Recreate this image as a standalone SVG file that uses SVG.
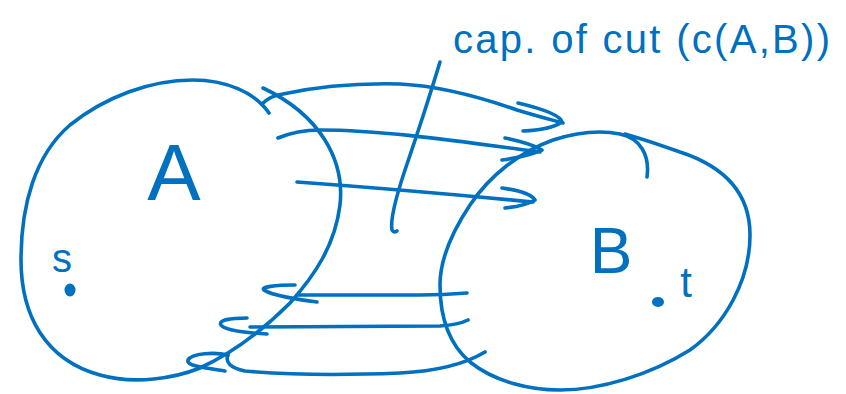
<svg xmlns="http://www.w3.org/2000/svg" width="846" height="394" viewBox="0 0 846 394">
<style>
.ink{fill:none;stroke:#0070C0;stroke-width:3.6;stroke-linecap:round;stroke-linejoin:round}
.lbl{fill:#0070C0;font-family:"Liberation Sans","DejaVu Sans",sans-serif}
.dot{fill:#0070C0}
</style>
<rect width="846" height="394" fill="#ffffff"/>
<g id="setA">
<path class="ink" d="M 269,113 C 255,92 225,80 193,80 C 150,80 105,97 70,125 C 35,155 21,205 21,260 C 21,315 45,360 100,375 C 135,385 175,378 200,368 C 235,352 265,328 290,303 C 315,275 335,245 340,205 C 345,160 320,115 263,88"/>
<text class="lbl" x="174" y="200" font-size="80" text-anchor="middle">A</text>
<text class="lbl" x="62" y="272" font-size="40" text-anchor="middle">s</text>
<ellipse class="dot" cx="70" cy="290" rx="5.5" ry="6.5"/>
</g>
<g id="setB">
<path class="ink" d="M 647,177 C 650,155 640,138 620,134 C 600,130 575,133 553,140 C 520,152 490,175 470,205 C 450,235 440,260 440,285 C 440,320 450,345 470,362 C 495,382 530,390 560,390 C 600,390 650,375 690,350 C 725,325 750,280 750,235 C 750,190 720,165 680,152 C 660,145 640,138 625,134"/>
<text class="lbl" x="611" y="273" font-size="64" text-anchor="middle">B</text>
<text class="lbl" x="686" y="297" font-size="42" text-anchor="middle">t</text>
<ellipse class="dot" cx="658" cy="302" rx="6" ry="5"/>
</g>
<g id="connectors">
<path class="ink" d="M 262,104 C 268,98 275,95 283,94 C 320,86 360,83 400,84 C 440,86 480,97 517,110 C 540,117 556,121 563,123"/>
<path class="ink" d="M 518,103 Q 560,113 562,122 Q 550,130 523,131"/>
<path class="ink" d="M 278,138 C 290,133 305,130 320,130 C 380,130 450,140 540,152"/>
<path class="ink" d="M 505,138 Q 530,143 542,150 Q 525,157 502,160"/>
<path class="ink" d="M 297,182 C 380,188 460,195 533,202"/>
<path class="ink" d="M 502,188 Q 530,192 535,200 Q 525,206 505,208"/>
<path class="ink" d="M 295,285 C 275,285 260,287 264,290 C 270,295 300,300 317,302"/>
<path class="ink" d="M 297,295 L 420,295 C 440,295 455,294 467,293"/>
<path class="ink" d="M 247,318 C 230,318 218,320 221,325 C 225,331 250,333 267,334"/>
<path class="ink" d="M 250,327 L 440,326 C 455,325 462,323 468,320"/>
<path class="ink" d="M 228,355 C 215,352 192,353 188,360 C 186,366 205,368 225,371"/>
<path class="ink" d="M 228,355 C 225,362 230,368 245,371 C 290,375 350,375 400,373 C 440,371 465,364 485,352"/>
</g>
<g id="cut-label">
<path class="ink" d="M 440,62 C 430,95 417,135 405,170 C 395,200 390,220 392,230 Q 394,233 397,231"/>
<text class="lbl" x="453" y="53" font-size="40" textLength="377" lengthAdjust="spacing">cap. of cut (c(A,B))</text>
</g>
</svg>
